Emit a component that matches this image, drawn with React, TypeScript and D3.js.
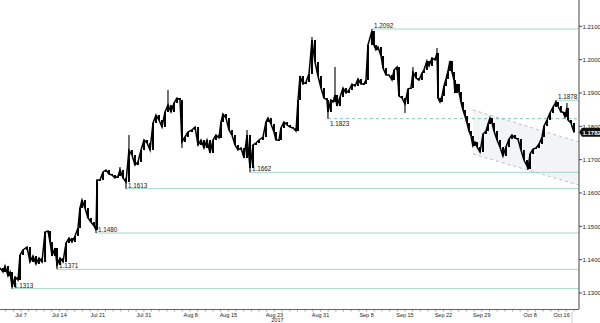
import React from "react";
import * as d3 from "d3";

// trading-day index (0 = Jul 7) and EUR/USD price path
const days = [-2.73,-2.34,-2.08,-1.69,-1.43,-1.17,-0.78,-0.39,-0.13,0.26,0.78,1.17,1.56,1.95,2.34,2.73,3.13,3.52,3.78,4.04,4.43,4.69,5.08,5.47,5.86,6.25,6.64,7.03,7.42,7.68,7.94,8.33,8.72,9.11,9.51,9.77,9.90,10.29,10.68,11.07,11.46,11.85,12.24,12.63,12.89,13.28,13.67,14.06,14.45,14.84,15.23,15.63,16.02,16.41,16.80,17.19,17.58,17.97,18.36,18.75,19.14,19.53,19.92,20.31,20.70,20.96,21.35,21.74,22.27,22.66,23.05,23.44,23.83,24.22,24.61,25.00,25.39,25.78,26.04,26.30,26.69,27.08,27.47,27.86,28.26,28.65,29.04,29.43,29.82,30.21,30.60,30.99,31.51,31.90,32.16,32.55,32.94,33.20,33.59,33.85,34.24,34.64,35.03,35.42,35.81,36.07,36.33,36.72,37.11,37.50,37.89,38.28,38.67,39.06,39.45,39.84,39.97,40.36,40.63,40.89,41.15,41.54,41.93,42.32,42.71,43.10,43.49,43.88,44.27,44.66,44.92,45.18,45.70,45.96,46.22,46.48,46.88,47.14,47.53,47.92,48.31,48.57,48.96,49.22,49.61,50.00,50.39,50.78,51.04,51.43,51.82,52.21,52.47,52.86,53.13,53.52,53.91,54.17,54.30,54.56,54.82,55.08,55.34,55.60,55.86,56.12,56.38,56.51,56.77,57.03,57.29,57.55,57.81,58.07,58.33,58.59,58.85,59.11,59.38,59.77,60.16,60.55,60.81,61.07,61.33,61.59,61.98,62.37,62.76,63.15,63.54,63.93,64.32,64.71,65.10,65.49,65.89,66.02,66.28,66.67,67.06,67.45,67.84,68.10,68.49,68.88,69.27,69.66,69.92,70.31,70.57,70.83,71.09,71.22,71.61,72.01];
const closes = [1.1375,1.1363,1.1381,1.1351,1.1363,1.1318,1.1348,1.1339,1.1414,1.1429,1.1438,1.1393,1.1411,1.1387,1.1405,1.1393,1.1483,1.1486,1.1453,1.1411,1.1435,1.1384,1.1405,1.1393,1.1450,1.1465,1.1453,1.1471,1.1495,1.1555,1.1579,1.1555,1.1525,1.1513,1.1501,1.1489,1.1639,1.1639,1.1663,1.1669,1.1657,1.1654,1.1645,1.1651,1.1669,1.1645,1.1633,1.1729,1.1714,1.1684,1.1693,1.1729,1.1759,1.1750,1.1729,1.1810,1.1834,1.1819,1.1798,1.1843,1.1864,1.1843,1.1870,1.1885,1.1879,1.1753,1.1768,1.1783,1.1789,1.1798,1.1744,1.1759,1.1735,1.1759,1.1720,1.1759,1.1774,1.1765,1.1813,1.1837,1.1825,1.1789,1.1774,1.1744,1.1729,1.1735,1.1705,1.1774,1.1675,1.1744,1.1750,1.1759,1.1768,1.1813,1.1825,1.1807,1.1783,1.1759,1.1759,1.1795,1.1813,1.1804,1.1798,1.1795,1.1786,1.1879,1.1951,1.1927,1.1933,1.1957,1.2059,1.1993,1.1951,1.1915,1.1885,1.1879,1.1843,1.1879,1.1873,1.1894,1.1861,1.1888,1.1915,1.1900,1.1909,1.1927,1.1921,1.1942,1.1927,1.1927,1.1939,1.2044,1.2086,1.2044,1.2029,1.2038,1.2011,1.1975,1.1954,1.1954,1.1939,1.1969,1.1978,1.1891,1.1885,1.1867,1.1912,1.1915,1.1963,1.1945,1.1939,1.1960,1.1969,1.1996,1.1981,1.2005,1.1999,1.2020,1.1885,1.1873,1.1891,1.1921,1.1942,1.1966,1.1996,1.1963,1.1939,1.1900,1.1927,1.1903,1.1873,1.1849,1.1831,1.1810,1.1786,1.1771,1.1741,1.1753,1.1738,1.1723,1.1777,1.1786,1.1807,1.1825,1.1810,1.1786,1.1759,1.1738,1.1711,1.1738,1.1762,1.1774,1.1765,1.1762,1.1729,1.1699,1.1681,1.1672,1.1717,1.1732,1.1735,1.1747,1.1768,1.1801,1.1819,1.1840,1.1858,1.1873,1.1861,1.1843,1.1843,1.1828,1.1855,1.1819,1.1810,1.1782];

// wick extremes [day, price]
const wicks: [number, number][] = [[-1.17,1.1313],[4.69,1.1371],[9.77,1.1480],[12.89,1.1678],[13.67,1.1613],[14.06,1.1774],[19.14,1.1909],[20.96,1.1735],[29.43,1.1789],[29.82,1.1662],[37.89,1.2068],[39.97,1.1823],[40.89,1.1978],[45.70,1.2092],[50.00,1.1840],[51.04,1.1978],[54.17,1.2035],[66.02,1.1669],[69.66,1.1878],[71.09,1.1870]];

// support / resistance levels
const levelValues = [1.2092, 1.1878, 1.1823, 1.1662, 1.1613, 1.1480, 1.1371, 1.1313];
const levelStartDays = [45.70, 69.66, 39.97, 29.82, 13.67, 9.77, 4.69, -1.17];
const levelDashed = [false, false, true, false, false, false, false, false];
const levelLabelBelow = [false, false, true, false, false, false, false, false];

// channel [day, upper, lower]
const channelDays = [58.85, 72.66];
const channelUpper = [1.1849, 1.1753];
const channelLower = [1.1717, 1.1624];

const xTickLabels = ["Jul 7","Jul 14","Jul 21","Jul 31","Aug 8","Aug 15","Aug 23","Aug 31","Sep 8","Sep 15","Sep 22","Sep 29","Oct 8","Oct 16"];
const xTickDays = [0,5,10,16,22.1,27,33,39,45,50,55,60,66.3,70.4];
const yTicks = [1.13,1.14,1.15,1.16,1.17,1.18,1.19,1.20,1.21];
const lastPrice = 1.1782;

const W = 600, H = 323;
const plotRight = 579, plotBottom = 309;
const FONT = "Liberation Sans, Arial, sans-serif";

export default function App() {
  const x = d3.scaleLinear().domain([-2.734, 72.66]).range([0, plotRight]);
  const y = d3.scaleLinear().domain([1.1252, 1.2179]).range([plotBottom, 0]);
  const fmt = d3.format(".4f");

  const pts = days.map((d, i) => [x(d), y(closes[i])] as [number, number]);
  const line = d3.line()(pts) || "";

  const chanArea = d3.area<number>()
    .x((_, i) => x(channelDays[i]))
    .y0((_, i) => y(channelLower[i]))
    .y1((_, i) => y(channelUpper[i]))(channelDays) || "";

  const minorTicks = d3.range(-2, 73);
  const ly = y(lastPrice);

  return (
    <svg width={W} height={H} style={{ position: "fixed", left: 0, top: 0, background: "#fff" }}
      fontFamily={FONT}>
      <rect x={0} y={0} width={W} height={H} fill="#fff" />
      {/* channel */}
      <path d={chanArea} fill="#f2f4f7" />
      {/* levels */}
      {levelValues.map((v, i) => (
        <line key={"lv" + i} x1={x(levelStartDays[i])} x2={plotRight} y1={y(v)} y2={y(v)}
          stroke={levelDashed[i] ? "#7cc3b2" : "#a6d6c9"} strokeWidth={1}
          strokeDasharray={levelDashed[i] ? "3,3" : undefined} />
      ))}
      {/* channel lines */}
      <line x1={x(channelDays[0])} x2={x(channelDays[1])} y1={y(channelUpper[0])} y2={y(channelUpper[1])}
        stroke="#bdbdbd" strokeDasharray="3,3" />
      <line x1={x(channelDays[0])} x2={x(channelDays[1])} y1={y(channelLower[0])} y2={y(channelLower[1])}
        stroke="#bdbdbd" strokeDasharray="3,3" />
      {/* wicks */}
      {wicks.map(([d, p], i) => {
        const idx = d3.minIndex(days, (dd) => Math.abs(dd - d));
        return <line key={"w" + i} x1={x(d)} x2={x(d)} y1={y(closes[idx])} y2={y(p)} stroke="#000" strokeWidth={1.1} />;
      })}
      {/* candle bodies */}
      {days.slice(1).map((d, i) => {
        const o = closes[i], c = closes[i + 1];
        const top = y(Math.max(o, c)), bot = y(Math.min(o, c));
        return <rect key={"c" + i} x={x(d) - 1} y={top} width={2} height={Math.max(1, bot - top)} fill="#000" />;
      })}
      <path d={line} fill="none" stroke="#000" strokeWidth={1.5} strokeLinejoin="miter" />
      {/* level labels */}
      {levelValues.map((v, i) => (
        <text key={"lt" + i} x={x(levelStartDays[i]) + 2} y={y(v) + (levelLabelBelow[i] ? 7.5 : -1)}
          fontSize={6.3} fill="#111">{fmt(v)}</text>
      ))}
      {/* axes */}
      <line x1={plotRight} x2={plotRight} y1={0} y2={plotBottom} stroke="#444" strokeWidth={1} />
      <line x1={0} x2={plotRight} y1={plotBottom + 0.5} y2={plotBottom + 0.5} stroke="#666" strokeWidth={1} />
      {yTicks.map((t) => (
        <g key={"yt" + t}>
          <line x1={plotRight} x2={plotRight + 3} y1={y(t)} y2={y(t)} stroke="#444" />
          <text x={plotRight + 3.5} y={y(t) + 2.2} fontSize={6} fill="#222">{fmt(t)}</text>
        </g>
      ))}
      {minorTicks.map((t) => (
        <line key={"mt" + t} x1={x(t)} x2={x(t)} y1={plotBottom + 1} y2={plotBottom + 2.5} stroke="#888" strokeWidth={0.8} />
      ))}
      {xTickLabels.map((l, i) => (
        <text key={"xl" + i} x={x(xTickDays[i])} y={plotBottom + 7.5} fontSize={5.5} fill="#222" textAnchor="middle">{l}</text>
      ))}
      <text x={x(xTickDays[6]) + 3} y={plotBottom + 13} fontSize={5.5} fill="#222" textAnchor="middle">2017</text>
      <line x1={x(days[days.length - 1]) - 2} x2={x(days[days.length - 1]) - 2} y1={plotBottom + 3} y2={H} stroke="#ccc" />
      {/* last price tag */}
      <path d={`M${plotRight},${ly} L${plotRight + 3},${ly - 4.5} L${W},${ly - 4.5} L${W},${ly + 4.5} L${plotRight + 3},${ly + 4.5} Z`} fill="#111" />
      <text x={plotRight + 3.5} y={ly + 2.2} fontSize={6} fill="#fff" fontWeight="bold">{fmt(lastPrice)}</text>
    </svg>
  );
}
